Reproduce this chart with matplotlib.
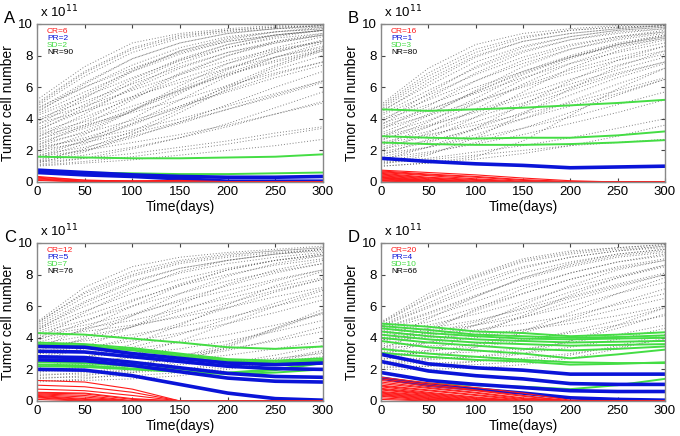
import matplotlib
matplotlib.use("Agg")
import matplotlib.pyplot as plt

plt.rcParams['font.family'] = ['Liberation Sans', 'DejaVu Sans']

# time points (days) at which every trajectory is sampled
days = [0, 50, 100, 150, 200, 250, 300]

# tumor cell number, in units of 1e11
# ---- panel A ----
nr_a = [
    [5.2, 7.3, 8.8, 9.4, 9.7, 9.9, 10.0], [5.0, 7.0, 8.5, 9.3, 9.6, 9.8, 9.9],
    [4.8, 6.7, 8.2, 9.1, 9.5, 9.7, 9.9], [4.6, 6.3, 7.8, 8.8, 9.4, 9.7, 9.8],
    [4.5, 6.0, 7.4, 8.5, 9.2, 9.5, 9.7], [4.3, 5.7, 7.0, 8.1, 8.9, 9.3, 9.6],
    [4.2, 5.4, 6.6, 7.7, 8.5, 9.1, 9.4], [4.0, 5.1, 6.2, 7.3, 8.2, 8.8, 9.3],
    [3.9, 4.8, 5.8, 6.8, 7.7, 8.4, 8.9], [3.7, 4.5, 5.4, 6.3, 7.2, 7.9, 8.5],
    [3.6, 5.3, 7.0, 8.3, 9.1, 9.5, 9.8], [3.4, 4.9, 6.5, 7.8, 8.7, 9.3, 9.6],
    [3.3, 4.5, 5.9, 7.2, 8.2, 8.9, 9.3], [3.1, 4.1, 5.3, 6.5, 7.5, 8.3, 8.9],
    [3.0, 3.8, 4.8, 5.8, 6.8, 7.6, 8.3], [2.9, 3.6, 4.4, 5.2, 6.1, 6.9, 7.6],
    [2.8, 4.3, 6.0, 7.5, 8.5, 9.2, 9.6], [2.6, 3.9, 5.4, 6.9, 8.0, 8.8, 9.3],
    [2.5, 3.4, 4.5, 5.7, 6.8, 7.7, 8.4], [2.4, 3.1, 3.9, 4.8, 5.7, 6.6, 7.4],
    [2.3, 3.6, 5.2, 6.8, 8.0, 8.9, 9.4], [2.2, 3.2, 4.5, 5.9, 7.2, 8.2, 8.9],
    [2.1, 2.8, 3.7, 4.7, 5.8, 6.8, 7.6], [2.0, 2.5, 3.1, 3.8, 4.6, 5.4, 6.3],
    [1.9, 3.0, 4.5, 6.1, 7.5, 8.5, 9.2], [1.8, 2.6, 3.6, 4.8, 6.0, 7.1, 8.0],
    [1.7, 2.2, 2.9, 3.7, 4.6, 5.5, 6.4], [1.6, 2.0, 2.5, 3.0, 3.6, 4.3, 5.0],
    [1.5, 2.4, 3.7, 5.2, 6.7, 7.9, 8.8], [1.4, 2.0, 2.8, 3.8, 4.9, 6.0, 7.0],
    [1.3, 1.7, 2.2, 2.8, 3.5, 4.3, 5.1], [1.25, 1.5, 1.8, 2.2, 2.6, 3.1, 3.5],
    [1.2, 1.9, 3.0, 4.4, 5.9, 7.3, 8.3], [1.1, 1.5, 2.1, 2.8, 3.7, 4.7, 5.7],
    [1.05, 1.3, 1.6, 2.0, 2.4, 2.9, 3.4], [1.0, 1.2, 1.4, 1.7, 2.0, 2.3, 2.7],
    [4.9, 6.9, 8.4, 9.2, 9.6, 9.8, 9.9], [4.4, 6.2, 7.8, 8.8, 9.4, 9.7, 9.9],
    [3.8, 5.5, 7.1, 8.3, 9.0, 9.5, 9.7], [3.2, 4.7, 6.3, 7.7, 8.7, 9.3, 9.6],
    [2.7, 3.5, 4.6, 5.8, 6.9, 7.9, 8.6], [2.2, 2.7, 3.3, 4.0, 4.8, 5.6, 6.4],
    [1.6, 2.6, 4.0, 5.6, 7.1, 8.2, 9.0], [1.3, 2.1, 3.2, 4.6, 6.1, 7.4, 8.4],
    [4.7, 6.0, 7.2, 8.2, 8.9, 9.3, 9.6],
]
sd_a = [
    [1.6, 1.55, 1.5, 1.5, 1.55, 1.6, 1.75],
    [0.7, 0.6, 0.55, 0.5, 0.5, 0.55, 0.6],
]
pr_a = [
    [0.75, 0.6, 0.45, 0.35, 0.3, 0.3, 0.35],
    [0.6, 0.45, 0.35, 0.2, 0.05, 0.05, 0.05],
]
cr_a = [
    [0.35, 0.12, 0.05, 0.0, 0.0, 0.0, 0.0], [0.3, 0.1, 0.08, 0.1, 0.02, 0.0, 0.0],
    [0.25, 0.05, 0.0, 0.0, 0.0, 0.0, 0.0], [0.2, 0.03, 0.0, 0.0, 0.0, 0.0, 0.0],
    [0.15, 0.0, 0.0, 0.0, 0.0, 0.0, 0.0], [0.1, 0.0, 0.0, 0.0, 0.0, 0.0, 0.0],
]

# ---- panel B ----
nr_b = [
    [4.9, 7.2, 8.7, 9.4, 9.7, 9.9, 10.0], [4.8, 6.9, 8.4, 9.2, 9.6, 9.8, 9.9],
    [4.6, 6.5, 8.0, 8.9, 9.4, 9.7, 9.9], [4.5, 6.1, 7.6, 8.6, 9.2, 9.6, 9.8],
    [4.3, 5.8, 7.2, 8.3, 9.0, 9.4, 9.7], [4.2, 5.5, 6.8, 7.9, 8.7, 9.2, 9.5],
    [4.0, 5.2, 6.4, 7.5, 8.4, 9.0, 9.4], [3.9, 4.9, 6.0, 7.0, 7.9, 8.6, 9.1],
    [3.7, 4.6, 5.6, 6.6, 7.5, 8.2, 8.8], [3.6, 5.3, 6.9, 8.2, 9.0, 9.5, 9.7],
    [3.4, 4.2, 5.1, 6.0, 6.9, 7.7, 8.3], [3.3, 4.8, 6.4, 7.7, 8.6, 9.2, 9.6],
    [3.1, 4.3, 5.7, 7.0, 8.0, 8.8, 9.3], [3.0, 3.9, 5.0, 6.1, 7.1, 7.9, 8.6],
    [2.8, 4.2, 5.8, 7.3, 8.4, 9.1, 9.5], [2.7, 3.5, 4.5, 5.5, 6.5, 7.4, 8.1],
    [2.6, 3.8, 5.3, 6.8, 7.9, 8.7, 9.3], [2.5, 3.2, 4.1, 5.0, 6.0, 6.9, 7.6],
    [2.3, 3.5, 5.0, 6.5, 7.8, 8.7, 9.2], [2.2, 2.9, 3.8, 4.8, 5.8, 6.8, 7.6],
    [2.1, 2.6, 3.3, 4.0, 4.8, 5.6, 6.5], [2.0, 3.1, 4.6, 6.2, 7.5, 8.5, 9.1],
    [1.9, 2.5, 3.4, 4.4, 5.5, 6.6, 7.5], [1.8, 2.2, 2.8, 3.4, 4.1, 4.9, 5.7],
    [1.7, 2.7, 4.1, 5.7, 7.2, 8.3, 9.0], [1.6, 2.2, 3.0, 4.0, 5.1, 6.2, 7.2],
    [1.5, 1.9, 2.4, 3.0, 3.7, 4.4, 5.2], [1.4, 2.2, 3.4, 4.9, 6.4, 7.7, 8.6],
    [1.3, 1.8, 2.5, 3.4, 4.4, 5.5, 6.5], [1.25, 1.5, 1.9, 2.3, 2.8, 3.4, 4.0],
    [1.2, 1.4, 1.7, 2.0, 2.3, 2.5, 2.7], [1.1, 1.7, 2.8, 4.3, 5.9, 7.3, 8.3],
    [1.0, 1.2, 1.6, 2.6, 4.2, 5.9, 7.2], [1.0, 1.2, 1.45, 1.8, 2.3, 2.9, 3.6],
    [4.7, 6.7, 8.2, 9.1, 9.6, 9.8, 9.9], [4.4, 6.3, 7.9, 8.9, 9.4, 9.7, 9.9],
    [3.8, 5.6, 7.3, 8.5, 9.2, 9.6, 9.8], [3.5, 4.5, 5.7, 6.9, 7.9, 8.7, 9.2],
    [2.9, 3.6, 4.4, 5.3, 6.2, 7.1, 7.9], [2.4, 3.0, 3.6, 4.3, 5.0, 5.8, 6.6],
]
sd_b = [
    [4.6, 4.5, 4.6, 4.7, 4.85, 5.0, 5.2],
    [2.9, 2.8, 2.75, 2.8, 2.8, 2.95, 3.2],
    [2.5, 2.4, 2.35, 2.35, 2.4, 2.5, 2.65],
]
pr_b = [
    [1.5, 1.3, 1.15, 1.05, 0.9, 0.95, 1.0],
]
cr_b = [
    [0.75, 0.6, 0.45, 0.25, 0.08, 0.0, 0.0], [0.7, 0.5, 0.35, 0.15, 0.03, 0.0, 0.0],
    [0.65, 0.45, 0.3, 0.1, 0.0, 0.0, 0.0], [0.6, 0.4, 0.2, 0.05, 0.0, 0.0, 0.0],
    [0.55, 0.3, 0.15, 0.0, 0.0, 0.0, 0.0], [0.5, 0.25, 0.1, 0.0, 0.0, 0.0, 0.0],
    [0.45, 0.2, 0.05, 0.0, 0.0, 0.0, 0.0], [0.4, 0.15, 0.02, 0.0, 0.0, 0.0, 0.0],
    [0.35, 0.1, 0.0, 0.0, 0.0, 0.0, 0.0], [0.3, 0.08, 0.0, 0.0, 0.0, 0.0, 0.0],
    [0.28, 0.05, 0.0, 0.0, 0.0, 0.0, 0.0], [0.25, 0.03, 0.0, 0.0, 0.0, 0.0, 0.0],
    [0.2, 0.02, 0.0, 0.0, 0.0, 0.0, 0.0], [0.15, 0.0, 0.0, 0.0, 0.0, 0.0, 0.0],
    [0.1, 0.0, 0.0, 0.0, 0.0, 0.0, 0.0], [0.05, 0.0, 0.0, 0.0, 0.0, 0.0, 0.0],
]

# ---- panel C ----
nr_c = [
    [5.0, 7.2, 8.5, 9.1, 9.4, 9.6, 9.8], [4.9, 6.9, 8.2, 8.9, 9.3, 9.5, 9.7],
    [4.8, 6.6, 7.9, 8.7, 9.1, 9.4, 9.6], [4.7, 6.3, 7.6, 8.4, 8.9, 9.3, 9.5],
    [4.6, 6.0, 7.2, 8.1, 8.7, 9.1, 9.4], [4.5, 5.7, 6.8, 7.7, 8.4, 8.9, 9.2],
    [4.4, 5.4, 6.4, 7.3, 8.0, 8.6, 9.0], [4.3, 5.1, 6.0, 6.8, 7.6, 8.2, 8.7],
    [4.2, 4.8, 5.5, 6.3, 7.0, 7.7, 8.3], [4.1, 4.6, 5.1, 5.8, 6.5, 7.2, 7.8],
    [4.0, 4.4, 4.8, 5.3, 5.9, 6.6, 7.2], [3.9, 5.6, 7.1, 8.2, 8.9, 9.3, 9.6],
    [3.8, 5.0, 6.3, 7.4, 8.3, 8.9, 9.3], [3.7, 4.5, 5.4, 6.4, 7.3, 8.1, 8.7],
    [3.6, 4.1, 4.7, 5.4, 6.2, 7.0, 7.7], [3.5, 3.8, 4.2, 4.7, 5.3, 6.0, 6.7],
    [3.3, 4.6, 6.0, 7.3, 8.3, 8.9, 9.3], [3.2, 3.9, 4.7, 5.7, 6.7, 7.6, 8.3],
    [3.1, 3.4, 3.8, 4.3, 4.9, 5.6, 6.4], [3.0, 3.1, 3.3, 3.7, 4.2, 4.8, 5.5],
    [2.9, 4.0, 5.4, 6.8, 7.9, 8.7, 9.2], [2.8, 3.3, 4.0, 4.9, 5.9, 6.9, 7.7],
    [2.7, 2.8, 3.0, 3.3, 3.8, 4.4, 5.1], [2.6, 2.6, 2.7, 2.9, 3.3, 3.8, 4.4],
    [2.5, 3.4, 4.7, 6.1, 7.4, 8.3, 8.9], [2.4, 2.8, 3.4, 4.2, 5.2, 6.2, 7.1],
    [2.3, 2.3, 2.4, 2.6, 2.9, 3.3, 3.8], [2.2, 2.2, 2.2, 2.3, 2.5, 2.7, 3.0],
    [2.1, 2.7, 3.6, 4.8, 6.1, 7.3, 8.2], [2.0, 2.1, 2.3, 2.7, 3.2, 3.9, 4.7],
    [1.9, 1.9, 1.9, 2.0, 2.2, 2.5, 2.8], [1.8, 2.2, 2.9, 3.8, 4.9, 6.0, 7.0],
    [1.7, 1.7, 1.8, 2.0, 2.4, 2.9, 3.5], [1.6, 1.8, 2.2, 2.8, 3.6, 4.6, 5.6],
    [1.5, 1.5, 1.6, 1.8, 2.1, 2.6, 3.2], [1.4, 1.6, 2.0, 2.6, 3.5, 4.6, 5.8],
    [1.3, 1.3, 1.4, 1.6, 2.0, 2.5, 3.1], [1.2, 1.4, 1.8, 2.5, 3.4, 4.5, 5.6],
    [4.95, 6.8, 8.0, 8.8, 9.2, 9.5, 9.7], [4.5, 6.2, 7.5, 8.4, 8.9, 9.3, 9.6],
]
sd_c = [
    [4.3, 4.2, 3.95, 3.7, 3.4, 3.3, 3.45],
    [3.7, 3.6, 3.35, 3.0, 2.65, 2.55, 2.7],
    [3.55, 3.45, 3.2, 2.85, 2.45, 2.4, 2.5],
    [2.45, 2.4, 2.2, 2.0, 1.8, 2.0, 2.45],
    [2.3, 2.25, 2.05, 1.85, 1.75, 1.95, 2.4],
    [2.2, 2.15, 2.0, 1.85, 1.7, 1.8, 2.0],
    [3.6, 3.5, 3.25, 2.95, 2.55, 2.45, 2.6],
]
pr_c = [
    [3.45, 3.4, 3.0, 2.7, 2.4, 2.3, 2.4],
    [3.15, 3.1, 2.8, 2.5, 2.2, 2.05, 2.0],
    [2.8, 2.75, 2.45, 2.1, 1.75, 1.55, 1.5],
    [2.6, 2.55, 2.25, 1.85, 1.45, 1.25, 1.2],
    [2.0, 1.95, 1.6, 1.05, 0.5, 0.15, 0.05],
]
cr_c = [
    [1.3, 1.2, 0.75, 0.0, 0.0, 0.0, 0.0], [1.0, 0.9, 0.55, 0.0, 0.0, 0.0, 0.0],
    [0.75, 0.65, 0.35, 0.0, 0.0, 0.0, 0.0], [0.55, 0.5, 0.15, 0.0, 0.0, 0.0, 0.0],
    [0.5, 0.45, 0.1, 0.0, 0.0, 0.0, 0.0], [0.45, 0.35, 0.02, 0.0, 0.0, 0.0, 0.0],
    [0.4, 0.25, 0.0, 0.0, 0.0, 0.0, 0.0], [0.35, 0.15, 0.0, 0.0, 0.0, 0.0, 0.0],
    [0.3, 0.1, 0.0, 0.0, 0.0, 0.0, 0.0], [0.25, 0.05, 0.0, 0.0, 0.0, 0.0, 0.0],
    [0.2, 0.02, 0.0, 0.0, 0.0, 0.0, 0.0], [0.1, 0.0, 0.0, 0.0, 0.0, 0.0, 0.0],
]

# ---- panel D ----
nr_d = [
    [5.0, 6.8, 8.0, 9.0, 9.5, 9.7, 9.9], [4.9, 6.5, 7.8, 8.8, 9.3, 9.6, 9.8],
    [4.8, 6.2, 7.5, 8.5, 9.1, 9.5, 9.7], [4.7, 5.9, 7.1, 8.1, 8.8, 9.3, 9.6],
    [4.6, 5.6, 6.7, 7.7, 8.5, 9.1, 9.4], [4.5, 5.3, 6.3, 7.3, 8.1, 8.8, 9.2],
    [4.4, 5.0, 5.9, 6.8, 7.7, 8.4, 8.9], [4.3, 4.8, 5.5, 6.3, 7.2, 7.9, 8.6],
    [4.2, 4.6, 5.1, 5.8, 6.6, 7.4, 8.1], [4.1, 4.4, 4.8, 5.3, 6.0, 6.8, 7.5],
    [4.0, 4.2, 4.5, 4.9, 5.4, 6.1, 6.8], [3.9, 4.0, 4.2, 4.5, 4.9, 5.4, 6.0],
    [3.8, 5.2, 6.6, 7.8, 8.6, 9.2, 9.5], [3.7, 4.6, 5.7, 6.8, 7.7, 8.5, 9.0],
    [3.6, 4.1, 4.8, 5.6, 6.5, 7.3, 8.0], [3.5, 3.7, 4.0, 4.5, 5.1, 5.8, 6.5],
    [3.4, 3.5, 3.6, 3.9, 4.3, 4.8, 5.4], [3.3, 4.4, 5.8, 7.1, 8.1, 8.8, 9.3],
    [3.2, 3.7, 4.4, 5.3, 6.3, 7.2, 8.0], [3.1, 3.2, 3.4, 3.8, 4.4, 5.1, 5.9],
    [3.0, 3.0, 3.1, 3.3, 3.7, 4.2, 4.8], [2.9, 3.7, 4.8, 6.1, 7.3, 8.3, 8.9],
    [2.8, 3.1, 3.6, 4.3, 5.2, 6.2, 7.1], [2.7, 2.7, 2.8, 3.0, 3.4, 3.9, 4.6],
    [2.6, 3.2, 4.2, 5.4, 6.7, 7.8, 8.6], [2.5, 2.6, 2.8, 3.2, 3.8, 4.6, 5.5],
    [2.4, 2.4, 2.5, 2.7, 3.0, 3.4, 3.9], [2.3, 2.7, 3.4, 4.4, 5.6, 6.8, 7.8],
    [2.2, 2.2, 2.3, 2.5, 2.9, 3.5, 4.2], [2.1, 2.2, 2.5, 3.0, 3.8, 4.8, 5.9],
    [2.0, 2.0, 2.1, 2.3, 2.7, 3.3, 4.0], [4.95, 6.6, 7.9, 8.9, 9.4, 9.7, 9.9],
    [4.75, 6.0, 7.3, 8.4, 9.1, 9.5, 9.8], [4.55, 5.5, 6.6, 7.8, 8.7, 9.3, 9.6],
    [3.85, 4.3, 5.0, 5.9, 6.9, 7.8, 8.5],
]
sd_d = [
    [4.9, 4.7, 4.4, 4.3, 4.1, 4.2, 4.35], [4.75, 4.5, 4.2, 4.1, 4.0, 4.05, 4.15],
    [4.6, 4.3, 4.1, 3.95, 3.9, 3.95, 4.0], [4.4, 4.1, 3.9, 3.8, 3.7, 3.75, 3.8],
    [4.2, 3.9, 3.7, 3.6, 3.5, 3.55, 3.6], [4.0, 3.7, 3.5, 3.3, 3.2, 3.3, 3.45],
    [3.8, 3.4, 3.2, 3.0, 2.7, 2.95, 3.25], [3.3, 3.0, 2.8, 2.6, 2.45, 2.4, 2.4],
    [3.05, 2.8, 2.6, 2.5, 2.3, 2.35, 2.45], [1.45, 1.1, 1.0, 0.9, 0.75, 1.0, 1.4],
]
pr_d = [
    [2.95, 2.35, 2.1, 1.95, 1.7, 1.7, 1.7],
    [2.5, 1.9, 1.6, 1.4, 1.1, 1.05, 1.05],
    [1.8, 1.3, 1.05, 0.85, 0.65, 0.6, 0.6],
    [1.45, 1.0, 0.75, 0.5, 0.2, 0.1, 0.05],
]
cr_d = [
    [1.5, 1.15, 0.85, 0.5, 0.05, 0.0, 0.0], [1.4, 1.05, 0.7, 0.35, 0.0, 0.0, 0.0],
    [1.3, 0.95, 0.65, 0.3, 0.0, 0.0, 0.0], [1.2, 0.85, 0.55, 0.2, 0.0, 0.0, 0.0],
    [1.1, 0.8, 0.5, 0.15, 0.0, 0.0, 0.0], [1.0, 0.7, 0.4, 0.1, 0.0, 0.0, 0.0],
    [0.95, 0.65, 0.35, 0.05, 0.0, 0.0, 0.0], [0.9, 0.55, 0.25, 0.0, 0.0, 0.0, 0.0],
    [0.8, 0.5, 0.2, 0.0, 0.0, 0.0, 0.0], [0.75, 0.45, 0.15, 0.0, 0.0, 0.0, 0.0],
    [0.7, 0.4, 0.1, 0.0, 0.0, 0.0, 0.0], [0.6, 0.35, 0.05, 0.0, 0.0, 0.0, 0.0],
    [0.55, 0.3, 0.0, 0.0, 0.0, 0.0, 0.0], [0.5, 0.25, 0.0, 0.0, 0.0, 0.0, 0.0],
    [0.45, 0.2, 0.0, 0.0, 0.0, 0.0, 0.0], [0.4, 0.15, 0.0, 0.0, 0.0, 0.0, 0.0],
    [0.35, 0.1, 0.0, 0.0, 0.0, 0.0, 0.0], [0.3, 0.05, 0.0, 0.0, 0.0, 0.0, 0.0],
    [0.2, 0.02, 0.0, 0.0, 0.0, 0.0, 0.0], [0.1, 0.0, 0.0, 0.0, 0.0, 0.0, 0.0],
]

panel_labels = ['A', 'B', 'C', 'D']
counts = [(6, 2, 2, 90), (16, 1, 3, 80), (12, 5, 7, 76), (20, 4, 10, 66)]
panels = [
    (nr_a, sd_a, pr_a, cr_a),
    (nr_b, sd_b, pr_b, cr_b),
    (nr_c, sd_c, pr_c, cr_c),
    (nr_d, sd_d, pr_d, cr_d),
]

RED = '#ff1a1a'
BLUE = '#0a14d8'
GREEN = '#44dd44'
GRAY = '#555555'

# axes rectangles [left, bottom, width, height] in figure fraction
rects = [
    [0.0544, 0.5826, 0.4206, 0.3624],
    [0.5603, 0.5826, 0.4176, 0.3624],
    [0.0544, 0.0803, 0.4206, 0.3624],
    [0.5603, 0.0803, 0.4176, 0.3624],
]
letter_pos = [(0.006, 0.958), (0.511, 0.958), (0.006, 0.455), (0.511, 0.455)]

fig = plt.figure(figsize=(6.8, 4.36), dpi=100)

for i in range(4):
    nr, sd, pr, cr = panels[i]
    ax = fig.add_axes(rects[i])

    for y in nr:
        ax.plot(days, y, color=GRAY, ls=(0, (1, 2)), lw=0.7, alpha=0.75)
    for y in sd:
        ax.plot(days, y, color=GREEN, lw=1.4)
    for y in pr:
        ax.plot(days, y, color=BLUE, lw=2.6)
    for y in cr:
        ax.plot(days, y, color=RED, lw=0.8)

    ax.set_xlim(0, 300)
    ax.set_ylim(0, 10)
    ax.set_xticks([0, 50, 100, 150, 200, 250, 300])
    ax.set_yticks([0, 2, 4, 6, 8, 10])
    ax.tick_params(direction='in', top=True, right=True, length=3,
                   labelsize=9.5, color='#444444', pad=3)
    for sp in ax.spines.values():
        sp.set_color('#888888')
        sp.set_linewidth(1.0)

    ax.set_xlabel('Time(days)', fontsize=10, labelpad=1)
    ax.set_ylabel('Tumor cell number', fontsize=10)
    ax.yaxis.set_label_coords(-0.078, 0.5)
    ax.text(0.01, 1.025, r'x 10$^{11}$', transform=ax.transAxes,
            fontsize=9.5, va='bottom', ha='left')

    n_cr, n_pr, n_sd, n_nr = counts[i]
    legend_items = [('CR=%d' % n_cr, RED), ('PR=%d' % n_pr, BLUE),
                    ('SD=%d' % n_sd, GREEN), ('NR=%d' % n_nr, 'black')]
    for k, (txt, col) in enumerate(legend_items):
        ax.text(0.035, 0.975 - k * 0.045, txt, transform=ax.transAxes,
                fontsize=6, color=col, va='top', ha='left')

    fig.text(letter_pos[i][0], letter_pos[i][1], panel_labels[i],
             fontsize=12, va='center', ha='left')

fig.savefig('out.png', dpi=100)
